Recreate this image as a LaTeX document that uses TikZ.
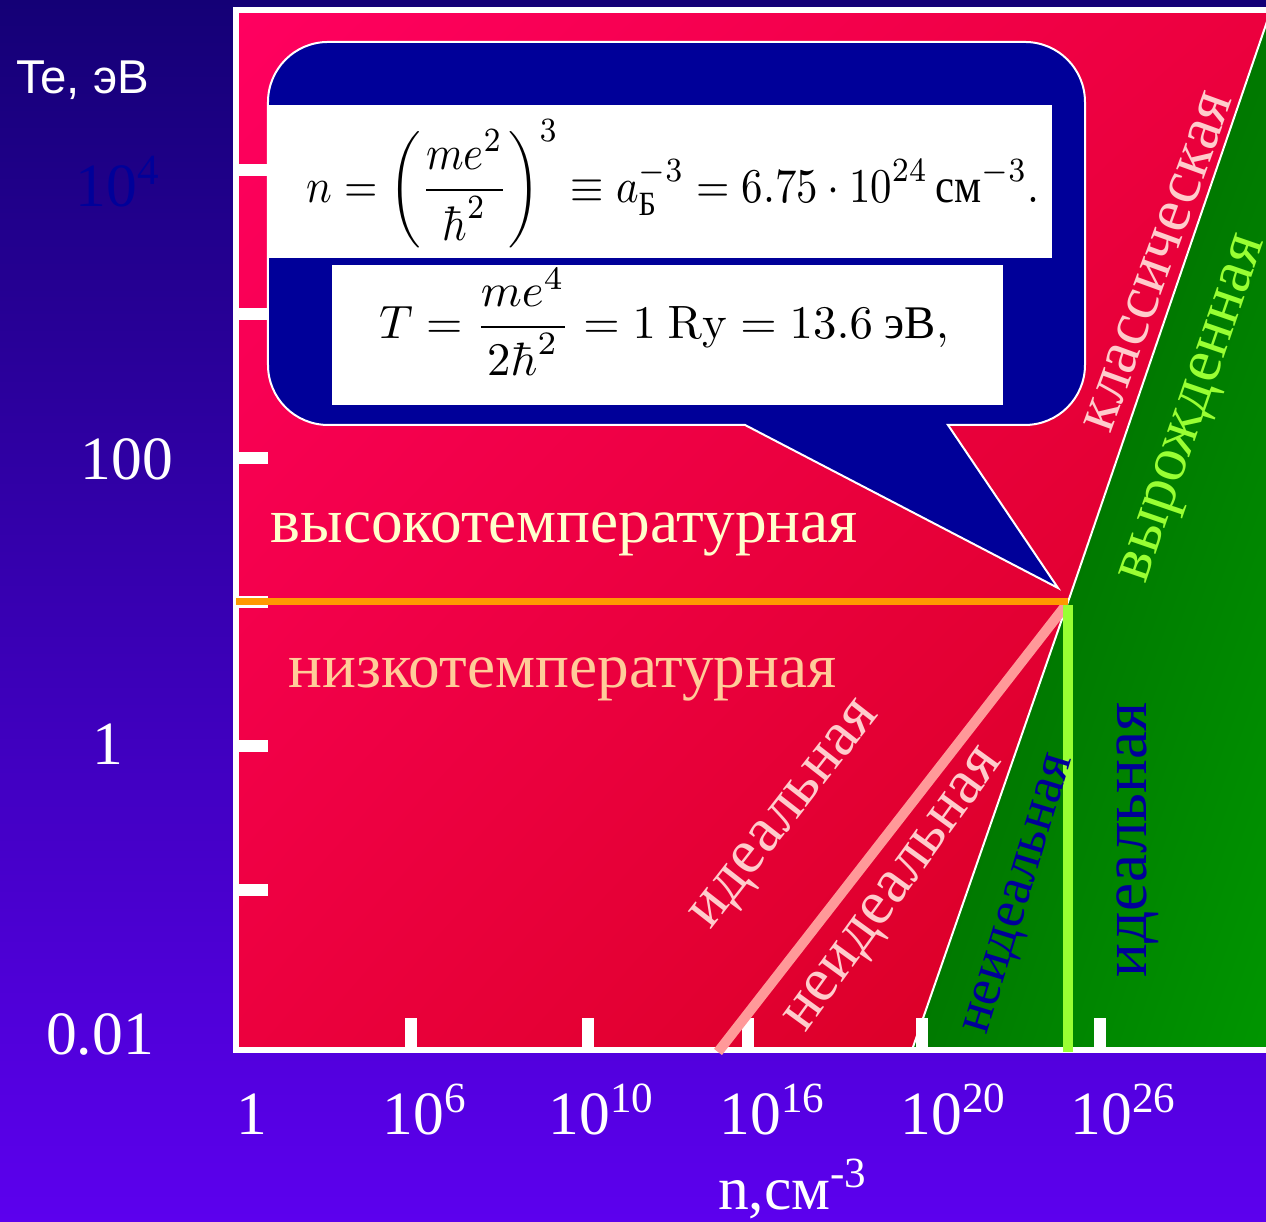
\documentclass[tikz,border=0pt]{standalone}
\usepackage[no-math]{fontspec}
\usepackage{amsmath}
\usepackage{graphicx}
\usetikzlibrary{shadings}
\setmainfont{Liberation Serif}
\setsansfont{Liberation Sans}

\definecolor{bgtop}{RGB}{20,0,118}
\definecolor{bgbot}{RGB}{92,0,238}
\definecolor{redtl}{RGB}{255,0,96}
\definecolor{redmid}{RGB}{236,0,62}
\definecolor{redbr}{RGB}{212,0,30}
\definecolor{grtl}{RGB}{0,92,0}
\definecolor{grmid}{RGB}{0,120,0}
\definecolor{grbr}{RGB}{0,150,0}
\definecolor{callblue}{RGB}{0,0,153}
\definecolor{hightext}{RGB}{255,255,204}
\definecolor{lowtext}{RGB}{255,204,153}
\definecolor{pinktext}{RGB}{255,204,204}
\definecolor{lime}{RGB}{153,255,51}
\definecolor{orangeline}{RGB}{255,153,0}
\definecolor{pinkline}{RGB}{255,153,153}

\begin{document}
\begin{tikzpicture}[
    numlabel/.style={text=white, font=\fontsize{17.5}{20}\selectfont, anchor=base, inner sep=0pt},
    region/.style={font=\fontsize{18}{20}\selectfont, inner sep=0pt},
    axtick/.style={white, line width=0.12cm},
    whitebox/.style={fill=white, inner sep=0pt},
    formula/.style={inner sep=0pt}
]
    \useasboundingbox (0,0) rectangle (12.66,12.22);
    \clip (0,0) rectangle (12.66,12.22);

    % Background
    \shade[top color=bgtop, bottom color=bgbot] (0,0) rectangle (12.66,12.22);

    % Key points
    \coordinate (triple) at (10.68,6.20);
    \coordinate (degtop) at (12.71,12.12);
    \coordinate (degbot) at (9.12,1.72);
    \coordinate (tip) at (10.58,6.34);

    % Regions
    \shade[upper left=redtl, upper right=redmid, lower left=redmid, lower right=redbr]
        (2.36,1.72) rectangle (12.66,12.12);
    \begin{scope}
        \clip (degtop) -- (triple) -- (degbot) -- (12.71,1.72) -- cycle;
        \shade[upper left=grtl, upper right=grmid, lower left=grmid, lower right=grbr]
            (9.0,1.72) rectangle (12.71,12.12);
    \end{scope}
    \draw[white, line width=0.02cm] (degtop) -- (triple) -- (degbot);

    % Frame and ticks
    \draw[white, line width=0.06cm] (12.8,12.12) -- (2.36,12.12) -- (2.36,1.72) -- (12.8,1.72);
    \foreach \y in {10.52,9.08,7.64,6.20,4.76,3.32}
        \draw[axtick] (2.36,\y) -- (2.68,\y);
    \foreach \x in {4.11,5.88,7.48,9.22,11.00}
        \draw[axtick] (\x,1.72) -- (\x,2.04);

    % Lines
    \draw[pinkline, line width=0.10cm] (7.18,1.70) -- (10.66,6.17);
    \draw[lime, line width=0.10cm] (10.68,6.17) -- (10.68,1.70);
    \draw[orangeline, line width=0.07cm] (2.36,6.20) -- (triple);

    % Callout
    \draw[fill=callblue, draw=white, line width=0.02cm]
        (9.48,7.97) -- (10.25,7.97) arc[start angle=270, end angle=360, radius=0.6]
        -- (10.85,11.20) arc[start angle=0, end angle=90, radius=0.6]
        -- (3.28,11.80) arc[start angle=90, end angle=180, radius=0.6]
        -- (2.68,8.57) arc[start angle=180, end angle=270, radius=0.6]
        -- (7.45,7.97) -- (tip) -- cycle;
    \node[whitebox, minimum width=7.84cm, minimum height=1.53cm] (nbox) at (6.60,10.405) {};
    \node[whitebox, minimum width=6.71cm, minimum height=1.40cm] (tbox) at (6.675,8.87) {};
    \node[formula] (nform) at (6.73,10.38)
        {\scalebox{1.22}[1.38]{$\displaystyle n=\left(\frac{me^2}{\hbar^2}\right)^{3}\equiv a_{\text{Б}}^{-3}=6.75\cdot10^{24}\,\text{см}^{-3}.$}};
    \node[formula] (tform) at (6.64,9.00)
        {\scalebox{1.33}{$\displaystyle T=\frac{me^4}{2\hbar^2}=1\ \mathrm{Ry}=13.6\ \text{эВ},$}};

    % Axis labels
    \node[font=\sffamily\fontsize{13.5}{16}\selectfont, text=white, inner sep=0pt] (teunit) at (0.83,11.42) {Te, эВ};
    \node[numlabel, text=callblue] (y4) at (1.18,10.15) {10\textsuperscript{4}};
    \node[numlabel] (y2) at (1.27,7.42) {100};
    \node[numlabel] (y0) at (1.08,4.57) {1};
    \node[numlabel] (ym2) at (1.00,1.67) {0.01};
    \node[numlabel] (x0) at (2.52,0.87) {1};
    \node[numlabel] (x6) at (4.25,0.87) {10\textsuperscript{6}};
    \node[numlabel] (x10) at (6.02,0.87) {10\textsuperscript{10}};
    \node[numlabel] (x16) at (7.73,0.87) {10\textsuperscript{16}};
    \node[numlabel] (x20) at (9.54,0.87) {10\textsuperscript{20}};
    \node[numlabel] (x26) at (11.24,0.87) {10\textsuperscript{26}};
    \node[numlabel] (nunit) at (7.93,0.12) {n,см\textsuperscript{-3}};

    % Region names
    \node[region, text=hightext, anchor=base west] (high) at (2.70,6.79) {высокотемпературная};
    \node[region, text=lowtext, anchor=base west] (low) at (2.88,5.34) {низкотемпературная};
    \node[region, text=pinktext, rotate=70] (classic) at (11.58,9.60) {классическая};
    \node[region, text=lime, rotate=71] (degen) at (11.97,8.12) {вырожденная};
    \node[region, text=pinktext, rotate=52] (ideal) at (7.88,4.05) {идеальная};
    \node[region, text=pinktext, rotate=54] (nonideal) at (8.97,3.30) {неидеальная};
    \node[region, text=callblue, font=\fontsize{15.5}{17}\selectfont, rotate=73] (dnonideal) at (10.22,3.27) {неидеальная};
    \node[region, text=callblue, rotate=90] (dideal) at (11.38,3.82) {идеальная};
\end{tikzpicture}
\end{document}
